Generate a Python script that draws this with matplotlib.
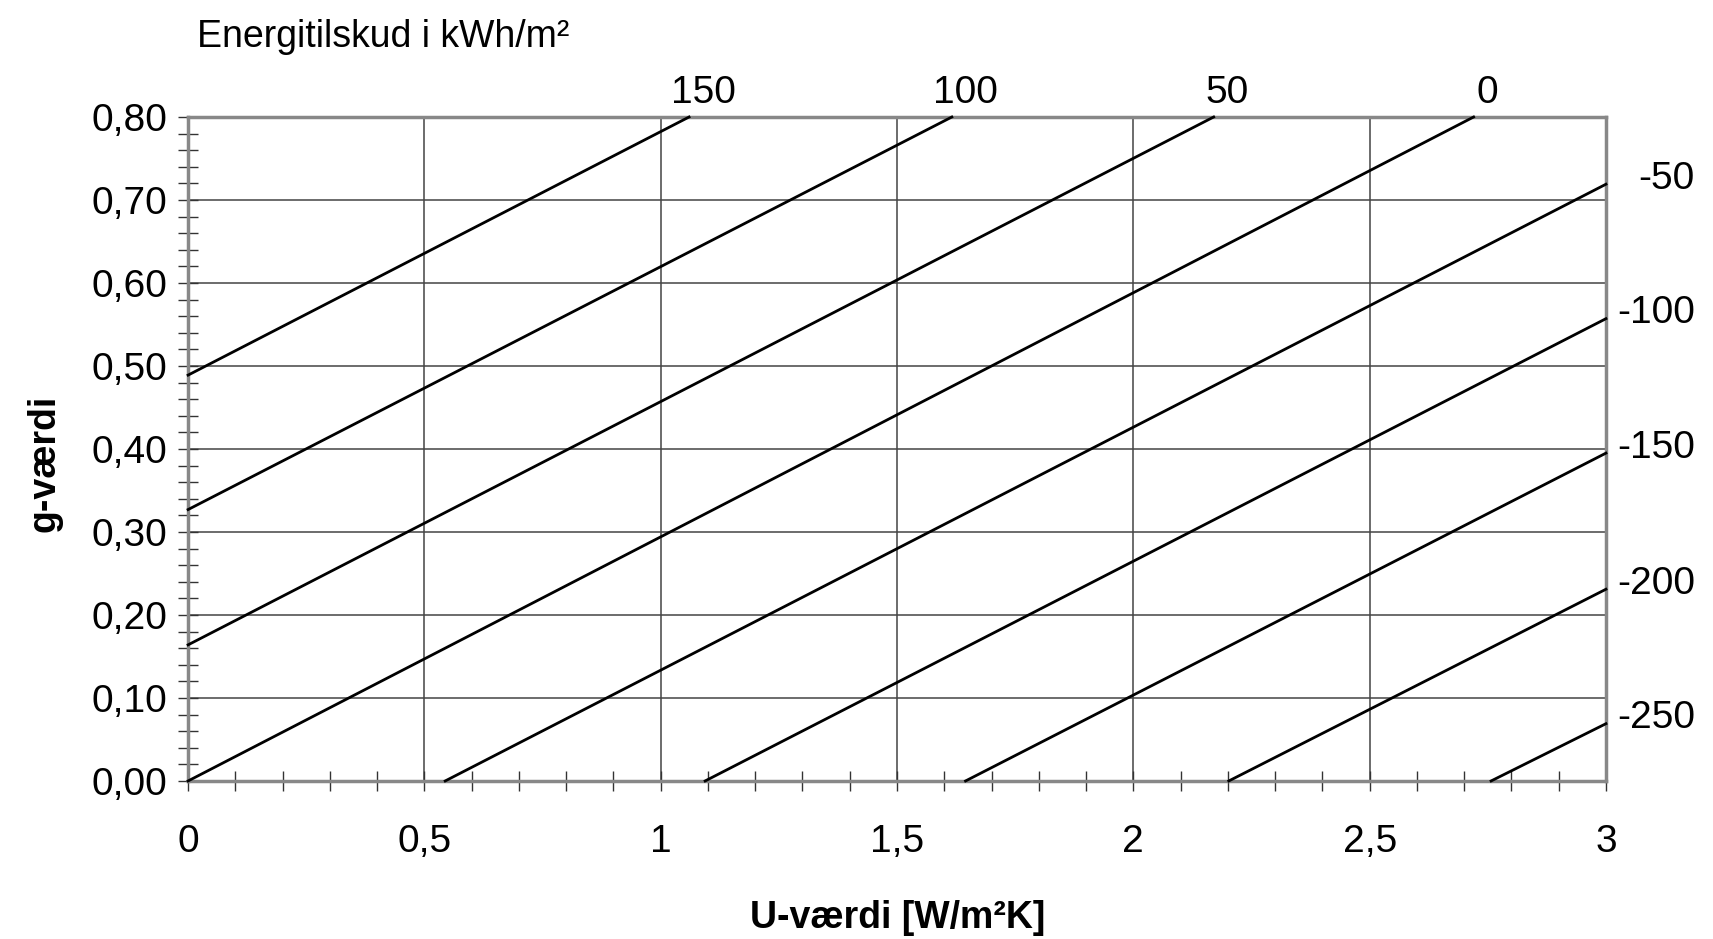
import matplotlib
matplotlib.use("Agg")
from matplotlib import pyplot as plt
from matplotlib.ticker import MultipleLocator

plt.rcParams['font.family'] = ['Liberation Sans', 'DejaVu Sans']

# energitilskud-linjer, endepunkter
niveauer = [150, 100, 50, 0, -50, -100, -150, -200, -250]
u_start = [0, 0, 0, 0, 0.544, 1.094, 1.645, 2.202, 2.757]
g_start = [0.489, 0.327, 0.164, 0, 0, 0, 0, 0, 0]
u_slut = [1.06, 1.616, 2.17, 2.72, 3, 3, 3, 3, 3]
g_slut = [0.80, 0.80, 0.80, 0.80, 0.719, 0.557, 0.395, 0.231, 0.069]

x_ticks = [0, 0.5, 1, 1.5, 2, 2.5, 3]
x_labels = ['0', '0,5', '1', '1,5', '2', '2,5', '3']
y_ticks = [0, 0.1, 0.2, 0.3, 0.4, 0.5, 0.6, 0.7, 0.8]
y_labels = ['0,00', '0,10', '0,20', '0,30', '0,40', '0,50', '0,60', '0,70', '0,80']

fs = 28

fig = plt.figure(figsize=(17.13, 9.39), dpi=100)
ax = fig.add_axes([0.1098, 0.1683, 0.8277, 0.7071])

for niv, u0, g0, u1, g1 in zip(niveauer, u_start, g_start, u_slut, g_slut):
    ax.plot([u0, u1], [g0, g1], color='black', lw=2, clip_on=False, zorder=3)
    if niv >= 0:
        ax.annotate(str(niv), (u1, g1), xytext=(10, 17), textcoords='offset points',
                    ha='center', va='center', fontsize=fs)
    else:
        ax.annotate(str(niv), (u1, g1), xytext=(64, 4), textcoords='offset points',
                    ha='right', va='center', fontsize=fs)

ax.set_xlim(0, 3)
ax.set_ylim(0, 0.8)
ax.set_xticks(x_ticks)
ax.set_xticklabels(x_labels)
ax.set_yticks(y_ticks)
ax.set_yticklabels(y_labels)
ax.xaxis.set_minor_locator(MultipleLocator(0.1))
ax.yaxis.set_minor_locator(MultipleLocator(0.02))
ax.tick_params(which='both', direction='inout', length=14, width=1, color='#333333')
ax.tick_params(axis='x', which='major', labelsize=fs, pad=24)
ax.tick_params(axis='y', which='major', labelsize=fs, pad=8)
ax.grid(True, which='major', color='#444444', lw=1.1)

for s in ax.spines.values():
    s.set_color('#888888')
    s.set_linewidth(2.5)

fig.text(0.115, 0.95, 'Energitilskud i kWh/m²', fontsize=27, ha='left', va='baseline')
fig.text(0.524, 0.022, 'U-værdi [W/m²K]', fontsize=27, fontweight='bold', ha='center', va='center')
fig.text(0.026, 0.506, 'g-værdi', fontsize=27, fontweight='bold', rotation=90, ha='center', va='center')

plt.savefig('out.png', dpi=100)
